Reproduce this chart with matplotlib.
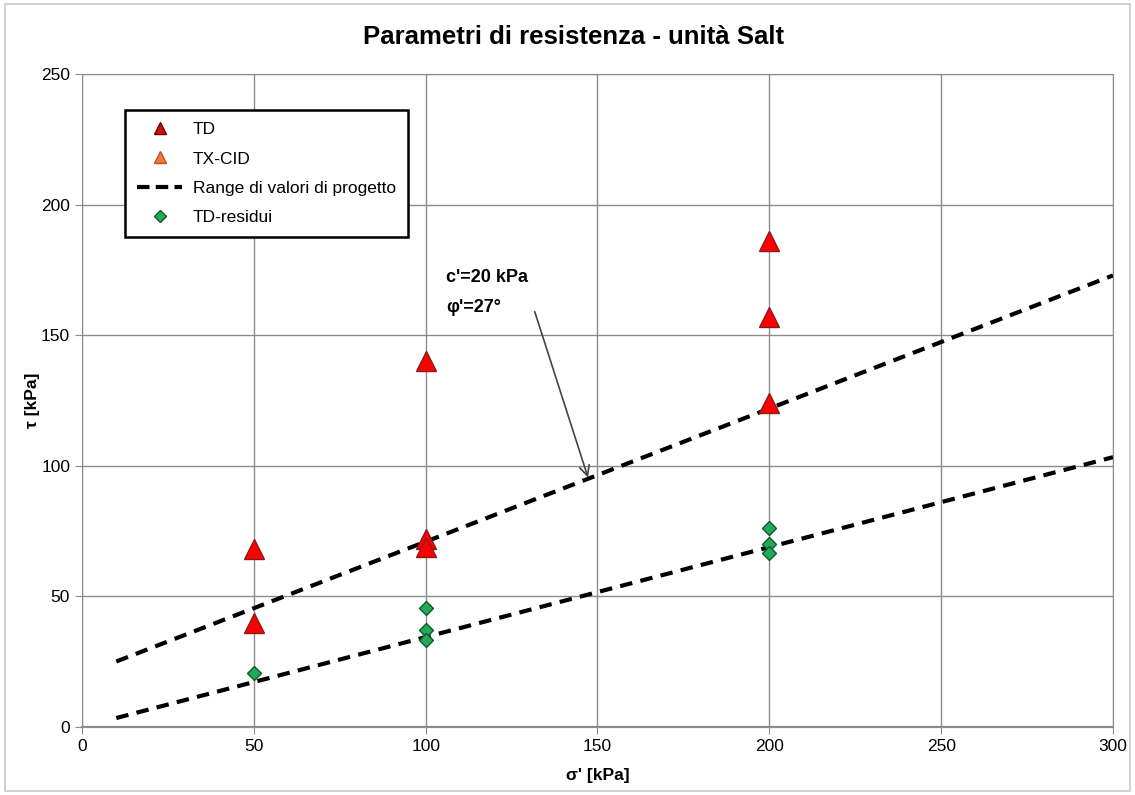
import numpy as np
import matplotlib.pyplot as plt
from matplotlib.patches import Rectangle
from matplotlib import font_manager

# direct shear peak values (TD) and residual values (TD-residui)
td_sigma = [50, 50, 100, 100, 100, 200, 200, 200]
td_tau = [68, 40, 140, 72, 69, 186, 157, 124]
txcid_sigma = []
txcid_tau = []
res_sigma = [50, 100, 100, 100, 200, 200, 200]
res_tau = [20.5, 45.5, 37, 33.5, 76, 70, 66.5]

# design envelope: (c' [kPa], phi' [deg])
design_upper = (20, 27)
design_lower = (0, 19)
design_sigma = [10, 300]

x_ticks = [0, 50, 100, 150, 200, 250, 300]
y_ticks = [0, 50, 100, 150, 200, 250]

names = {f.name for f in font_manager.fontManager.ttflist}
tick_font = "Liberation Sans Narrow" if "Liberation Sans Narrow" in names else "Liberation Sans"
plt.rcParams["font.family"] = ["Liberation Sans", "DejaVu Sans"]

fig = plt.figure(figsize=(11.35, 7.95), dpi=100)
fig.patches.append(Rectangle((0.004, 0.005), 0.992, 0.99, transform=fig.transFigure,
                             fill=False, edgecolor="#c8c8c8", linewidth=1.2))
ax = fig.add_axes([0.0722, 0.0855, 0.9084, 0.8215])

sig = np.array(design_sigma, dtype=float)
for c, phi in (design_upper, design_lower):
    tau = c + sig * np.tan(np.radians(phi))
    ax.plot(sig, tau, color="black", linestyle=(0, (3, 2)), linewidth=3, zorder=3)

ax.plot(td_sigma, td_tau, linestyle="none", marker="^", markersize=15,
        markerfacecolor="#ff0000", markeredgecolor="#8b1a1a", markeredgewidth=1, zorder=4)
ax.plot(txcid_sigma, txcid_tau, linestyle="none", marker="^", markersize=15,
        markerfacecolor="#f47a3a", markeredgecolor="#c0502a", zorder=4)
ax.plot(res_sigma, res_tau, linestyle="none", marker="D", markersize=7,
        markerfacecolor="#22aa5a", markeredgecolor="#0f5a2a", markeredgewidth=1, zorder=5)

# legend handles drawn with smaller markers
h_td, = ax.plot([], [], linestyle="none", marker="^", markersize=8,
                markerfacecolor="#d01010", markeredgecolor="#6b0000")
h_tx, = ax.plot([], [], linestyle="none", marker="^", markersize=8,
                markerfacecolor="#f47a3a", markeredgecolor="#c0502a")
h_rng, = ax.plot([], [], color="black", linestyle=(0, (3, 1.5)), linewidth=3)
h_res, = ax.plot([], [], linestyle="none", marker="D", markersize=6,
                 markerfacecolor="#22aa5a", markeredgecolor="#0f5a2a")
leg = ax.legend([h_td, h_tx, h_rng, h_res],
                ["TD", "TX-CID", "Range di valori di progetto", "TD-residui"],
                loc="upper left", bbox_to_anchor=(0.0417, 0.945), borderaxespad=0,
                fontsize=12.5, frameon=True, fancybox=False, framealpha=1, edgecolor="black",
                handlelength=2.6, handletextpad=0.6, labelspacing=0.82, borderpad=0.7)
leg.get_frame().set_linewidth(1.8)
leg.set_zorder(6)

ax.annotate("", xy=(147.5, 94.5), xytext=(131.5, 160),
            arrowprops=dict(arrowstyle="->", color="#444444", lw=1.2, mutation_scale=18))
ax.text(106, 172, "c'=20 kPa", fontsize=13, fontweight="bold", va="center", ha="left")
ax.text(106, 160.5, "\u03c6'=27°", fontsize=13, fontweight="bold", va="center", ha="left")

ax.set_xlim(0, 300)
ax.set_ylim(0, 250)
ax.set_xticks(x_ticks)
ax.set_yticks(y_ticks)
ax.grid(True, color="#8c8c8c", linewidth=1)
ax.set_axisbelow(True)
for s in ax.spines.values():
    s.set_color("#8c8c8c")
ax.spines["bottom"].set_linewidth(1.6)
ax.tick_params(colors="#8c8c8c", length=5, labelcolor="black", labelsize=12.5)
for lab in ax.get_xticklabels() + ax.get_yticklabels():
    lab.set_fontfamily(tick_font)

ax.set_xlabel("\u03c3' [kPa]", fontsize=12.5, fontweight="bold", labelpad=10)
ax.set_ylabel("\u03c4 [kPa]", fontsize=12.5, fontweight="bold", labelpad=1)
fig.text(0.505, 0.953, "Parametri di resistenza - unità Salt", ha="center", va="center",
         fontsize=18.5, fontweight="bold", fontfamily=tick_font)

fig.savefig("out.png", dpi=100)
